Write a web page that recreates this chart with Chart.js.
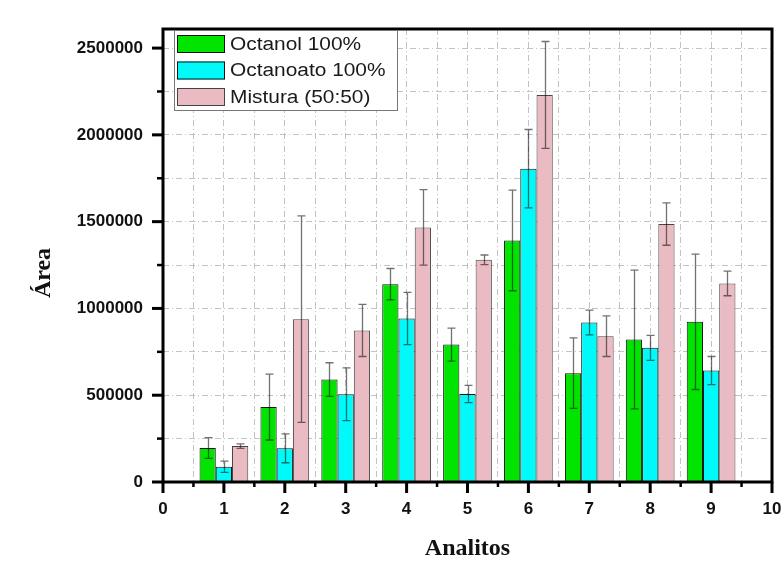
<!DOCTYPE html>
<html>
<head>
<meta charset="utf-8">
<script src="https://cdn.jsdelivr.net/npm/chart.js@4.4.1/dist/chart.umd.min.js"></script>
<style>
  html, body { margin: 0; padding: 0; background: #fff; }
  #wrap { width: 782px; height: 579px; position: relative; }
</style>
</head>
<body>
<div id="wrap"><canvas id="areaChart"></canvas></div>
<script>
// Analitos 1..9, three preparations each
const analitos = [1, 2, 3, 4, 5, 6, 7, 8, 9];

const octanol = [196000, 432000, 590000, 1140000, 792000, 1392000, 627000, 821000, 923000];
const octanolErr = [60000, 190000, 97000, 90000, 95000, 290000, 203000, 400000, 390000];

const octanoato = [88000, 194000, 506000, 942000, 507000, 1805000, 919000, 773000, 642000];
const octanoatoErr = [32000, 83000, 152000, 150000, 50000, 226000, 71000, 72000, 81000];

const mistura = [207000, 938000, 873000, 1467000, 1280000, 2230000, 840000, 1486000, 1144000];
const misturaErr = [13000, 595000, 150000, 218000, 28000, 308000, 117000, 122000, 71000];

const seriesLabels = ['Octanol 100%', 'Octanoato 100%', 'Mistura (50:50)'];

// tick labels shown on the axes
const xTickLabels = [0, 1, 2, 3, 4, 5, 6, 7, 8, 9, 10];
const yTickLabels = [0, 500000, 1000000, 1500000, 2000000, 2500000];

function toPoints(values) {
    return values.map((v, i) => ({ x: analitos[i], y: v }));
}

// major + minor y ticks (every 250000)
const yGrid = [];
for (let v = 0; v <= 2500000; v += 250000) yGrid.push(v);

// error bars on top of each bar
const errorBars = {
    id: 'errorBars',
    afterDatasetsDraw(chart) {
        const ctx = chart.ctx;
        const yScale = chart.scales.y;
        ctx.save();
        ctx.strokeStyle = 'rgba(20,20,20,0.6)';
        ctx.lineWidth = 1.3;
        chart.data.datasets.forEach((ds, i) => {
            const meta = chart.getDatasetMeta(i);
            meta.data.forEach((bar, j) => {
                const v = ds.data[j].y;
                const e = ds.errors[j];
                const top = yScale.getPixelForValue(v + e);
                const bot = yScale.getPixelForValue(Math.max(v - e, 0));
                const x = Math.round(bar.x) + 0.5;
                ctx.beginPath();
                ctx.moveTo(x, top);
                ctx.lineTo(x, bot);
                ctx.moveTo(x - 4, top);
                ctx.lineTo(x + 4, top);
                ctx.moveTo(x - 4, bot);
                ctx.lineTo(x + 4, bot);
                ctx.stroke();
            });
        });
        ctx.restore();
    }
};

// frame, tick marks, y title and the boxed legend
const frameAndLegend = {
    id: 'frameAndLegend',
    afterDraw(chart) {
        const ctx = chart.ctx;
        const area = chart.chartArea;
        const xs = chart.scales.x;
        const ys = chart.scales.y;
        ctx.save();

        // ticks
        ctx.strokeStyle = '#000';
        for (let v = 0; v <= 10; v += 0.5) {
            const px = xs.getPixelForValue(v);
            const major = Number.isInteger(v);
            ctx.lineWidth = major ? 3 : 2.5;
            ctx.beginPath();
            ctx.moveTo(px, area.bottom);
            ctx.lineTo(px, area.bottom + (major ? 11 : 5));
            ctx.stroke();
        }
        yGrid.forEach(v => {
            const py = ys.getPixelForValue(v);
            const major = yTickLabels.includes(v);
            ctx.lineWidth = major ? 3 : 2.5;
            ctx.beginPath();
            ctx.moveTo(area.left, py);
            ctx.lineTo(area.left - (major ? 11 : 6), py);
            ctx.stroke();
        });

        // frame
        ctx.lineWidth = 3;
        ctx.strokeRect(area.left, area.top, area.right - area.left, area.bottom - area.top);

        // y axis title, sits a bit below the middle like the original
        ctx.save();
        ctx.translate(44, 273);
        ctx.rotate(-Math.PI / 2);
        ctx.fillStyle = '#111';
        ctx.font = 'bold 24px "Liberation Serif", "Times New Roman", serif';
        ctx.textAlign = 'center';
        ctx.textBaseline = 'middle';
        ctx.fillText('Área', 0, 0);
        ctx.restore();

        // legend
        const lx = area.left + 11, ly = area.top + 1;
        ctx.fillStyle = '#fff';
        ctx.fillRect(lx, ly, 223, 80);
        ctx.lineWidth = 1;
        ctx.strokeStyle = '#777';
        ctx.strokeRect(lx + 0.5, ly + 0.5, 223, 80);
        chart.data.datasets.forEach((ds, i) => {
            const ry = ly + 5 + i * 26.5;
            ctx.fillStyle = ds.backgroundColor;
            ctx.fillRect(lx + 3, ry, 48, 18);
            ctx.strokeStyle = ds.borderColor;
            ctx.strokeRect(lx + 3.5, ry + 0.5, 47, 17);
            ctx.fillStyle = '#1a1a1a';
            ctx.font = '18px "Liberation Sans", Arial, sans-serif';
            ctx.textBaseline = 'middle';
            ctx.save();
            ctx.translate(lx + 56, ry + 10);
            ctx.scale(1.16, 1);
            ctx.fillText(ds.label, 0, 0);
            ctx.restore();
        });
        ctx.restore();
    }
};

const gridColor = 'rgba(170,170,170,0.7)';

const ctx = document.getElementById('areaChart').getContext('2d');
const chartInstance = new Chart(ctx, {
    type: 'bar',
    data: {
        datasets: [{
            label: seriesLabels[0],
            data: toPoints(octanol),
            errors: octanolErr,
            backgroundColor: '#00E400',
            borderColor: '#111',
            borderWidth: 1
        }, {
            label: seriesLabels[1],
            data: toPoints(octanoato),
            errors: octanoatoErr,
            backgroundColor: '#00FAFA',
            borderColor: '#111',
            borderWidth: 1
        }, {
            label: seriesLabels[2],
            data: toPoints(mistura),
            errors: misturaErr,
            backgroundColor: '#EBBBC3',
            borderColor: '#444',
            borderWidth: 1
        }]
    },
    options: {
        responsive: true,
        maintainAspectRatio: false,
        animation: false,
        // the bar ruler sees the 0.5 ticks, so 1.6 here = 0.8 of one analito
        categoryPercentage: 1.6,
        barPercentage: 1.0,
        layout: { padding: { top: 29, right: 10, left: 0, bottom: 0 } },
        plugins: {
            legend: { display: false },
            tooltip: { enabled: false }
        },
        scales: {
            x: {
                type: 'linear',
                min: 0,
                max: 10,
                offset: false,
                grid: { offset: false, color: gridColor, drawTicks: false },
                border: { display: false, dash: [6, 3, 1, 3] },
                ticks: {
                    stepSize: 0.5,
                    autoSkip: false,
                    maxRotation: 0,
                    padding: 17,
                    color: '#111',
                    font: { family: '"Liberation Sans", Arial, sans-serif', size: 17, weight: 'bold' },
                    callback: v => {
                        const r = Math.round(v);
                        return Math.abs(v - r) < 1e-6 && xTickLabels.includes(r) ? String(r) : '';
                    }
                },
                title: {
                    display: true,
                    text: 'Analitos',
                    color: '#111',
                    font: { family: '"Liberation Serif", "Times New Roman", serif', size: 24, weight: 'bold' },
                    padding: { top: 0, bottom: 16 }
                },
                afterFit: scale => {
                    scale.height = 97;
                    scale.paddingLeft = 0;
                    scale.paddingRight = 0;
                }
            },
            y: {
                min: 0,
                max: 2610000,
                grid: { color: gridColor, drawTicks: false },
                border: { display: false, dash: [6, 3, 1, 3] },
                afterBuildTicks: scale => {
                    scale.ticks = yGrid.map(v => ({ value: v }));
                },
                ticks: {
                    autoSkip: false,
                    padding: 20,
                    color: '#111',
                    font: { family: '"Liberation Sans", Arial, sans-serif', size: 17, weight: 'bold' },
                    callback: v => yTickLabels.includes(v) ? String(v) : ''
                },
                afterFit: scale => {
                    scale.width = 163;
                    scale.paddingTop = 0;
                    scale.paddingBottom = 0;
                }
            }
        }
    },
    plugins: [errorBars, frameAndLegend]
});
</script>
</body>
</html>
